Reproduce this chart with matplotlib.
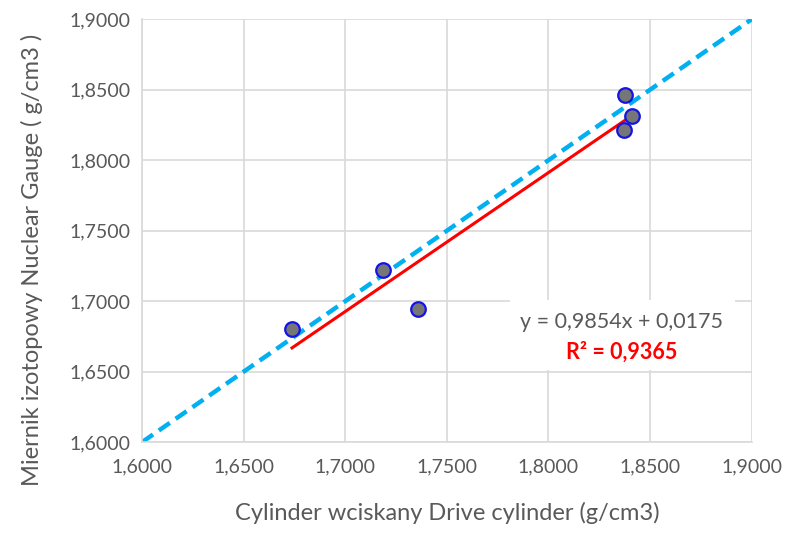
import numpy as np
import matplotlib.pyplot as plt
from matplotlib.ticker import FuncFormatter
from matplotlib.patches import Rectangle

plt.rcParams['font.family'] = ['Lato', 'DejaVu Sans']

# pomiary
drive_cyl = [1.6738, 1.7185, 1.7358, 1.8376, 1.8410, 1.8371]
nuclear = [1.6801, 1.7220, 1.6943, 1.8461, 1.8312, 1.8213]
slope, intercept = 0.9854, 0.0175
r2 = 0.9365

ticks = [1.60, 1.65, 1.70, 1.75, 1.80, 1.85, 1.90]
grey = '#595959'

fig = plt.figure(figsize=(7.98, 5.34), dpi=100)
ax = fig.add_axes([0.178, 0.172, 0.764, 0.792])

ax.plot([1.6, 1.9], [1.6, 1.9], color='#00B0F0', lw=3.2, ls=(0, (3, 1.6)), zorder=2)

xs = np.array([min(drive_cyl), max(drive_cyl)])
ax.plot(xs, slope * xs + intercept, color='#FF0000', lw=2.2, zorder=3)

ax.scatter(drive_cyl, nuclear, s=110, facecolor='#767676', edgecolor='#1414E6', lw=1.6, zorder=4)

ax.set_xlim(1.6, 1.9)
ax.set_ylim(1.6, 1.9)
ax.set_xticks(ticks)
ax.set_yticks(ticks)
fmt = FuncFormatter(lambda v, p: f'{v:.4f}'.replace('.', ','))
ax.xaxis.set_major_formatter(fmt)
ax.yaxis.set_major_formatter(fmt)
ax.tick_params(length=0, labelsize=14, colors=grey, pad=8)
ax.tick_params(axis='x', pad=12)
ax.grid(color='#D9D9D9', lw=1.2)
ax.set_axisbelow(True)
for s in ['top', 'right']:
    ax.spines[s].set_visible(False)
for s in ['left', 'bottom']:
    ax.spines[s].set_color('#D9D9D9')
    ax.spines[s].set_linewidth(1.2)

ax.set_xlabel('Cylinder wciskany Drive cylinder (g/cm3)', fontsize=17, color=grey)
ax.set_ylabel('Miernik izotopowy Nuclear Gauge ( g/cm3 )', fontsize=17, color=grey)
ax.xaxis.set_label_coords(0.5, -0.142)
ax.yaxis.set_label_coords(-0.162, 0.43)

# ramka z równaniem
ax.add_patch(Rectangle((0.603, 0.170), 0.369, 0.166, transform=ax.transAxes,
                       facecolor='white', edgecolor='none', zorder=5))
ax.text(0.786, 0.284, f'y = {slope:.4f}x + {intercept:.4f}'.replace('.', ','),
        transform=ax.transAxes, ha='center', va='center', fontsize=15.5, color=grey, zorder=6)
ax.text(0.786, 0.213, f'R² = {r2:.4f}'.replace('.', ','),
        transform=ax.transAxes, ha='center', va='center', fontsize=15.5,
        color='#FF0000', fontweight='bold', zorder=6)

fig.savefig('out.png', dpi=100)
